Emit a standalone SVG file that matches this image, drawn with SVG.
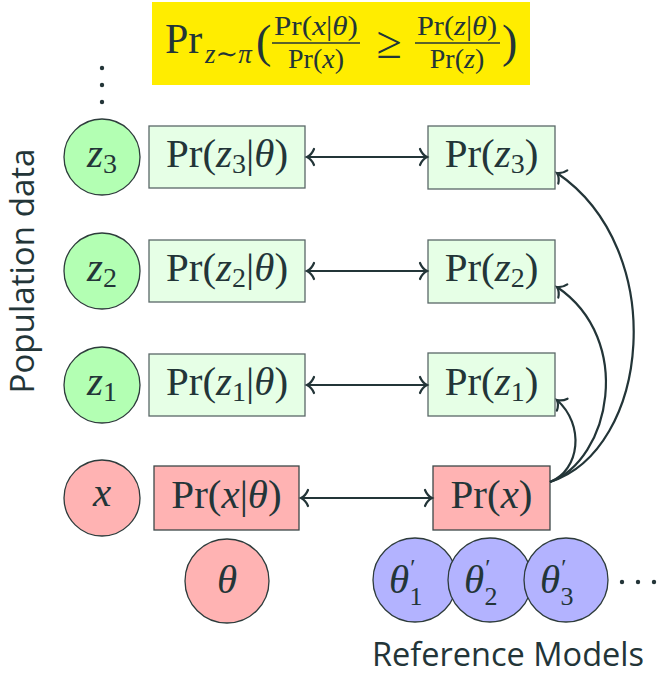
<svg xmlns="http://www.w3.org/2000/svg" width="661" height="674" viewBox="0 0 661 674">
<style>
text{fill:#233538;font-family:"Liberation Serif","DejaVu Serif",serif}
.m{font-size:41px}
.f{font-size:28px}
.i{font-style:italic}
.sans{font-family:"Open Sans","DejaVu Sans",sans-serif;font-size:32px}
.gc{fill:#b3ffb3;stroke:#2d3b3b;stroke-width:1.3}
.gb{fill:#e6ffe6;stroke:#5a6868;stroke-width:1.3}
.rc{fill:#ffb3b3;stroke:#2d3b3b;stroke-width:1.3}
.rb{fill:#ffb3b3;stroke:#3d4848;stroke-width:1.3}
.bc{fill:#b3b3ff;stroke:#2d3b3b;stroke-width:1.3}
.ln{fill:none;stroke:#233538;stroke-width:2.2;marker-end:url(#ah)}
.dl{fill:none;stroke:#233538;stroke-width:2.2;marker-start:url(#ah);marker-end:url(#ah)}
.dot{fill:#233538}
</style>
<defs>
<marker id="ah" markerUnits="userSpaceOnUse" viewBox="-10 -10 14 20" refX="0" refY="0" markerWidth="14" markerHeight="20" orient="auto-start-reverse">
<path d="M-7,-8 C-5,-3 -2,-1 0,0 C-2,1 -5,3 -7,8" fill="none" stroke="#233538" stroke-width="2.2" stroke-linecap="round"/>
</marker>
</defs>

<g id="formula">
<rect x="152" y="2" width="378" height="83" fill="#ffed00"/>
<text x="165" y="53" font-size="42">Pr</text>
<text x="205" y="63" font-size="27" class="i">z∼π</text>
<text x="256" y="57" font-size="46">(</text>
<text x="316" y="35" class="f" text-anchor="middle" textLength="84" lengthAdjust="spacingAndGlyphs">Pr(<tspan class="i">x</tspan>|<tspan class="i">θ</tspan>)</text>
<line x1="272" y1="43" x2="360" y2="43" stroke="#233538" stroke-width="1.4"/>
<text x="316" y="68" class="f" text-anchor="middle">Pr(<tspan class="i">x</tspan>)</text>
<text x="389" y="58" font-size="46" text-anchor="middle">≥</text>
<text x="457" y="35" class="f" text-anchor="middle" textLength="80" lengthAdjust="spacingAndGlyphs">Pr(<tspan class="i">z</tspan>|<tspan class="i">θ</tspan>)</text>
<line x1="415" y1="43" x2="500" y2="43" stroke="#233538" stroke-width="1.4"/>
<text x="457" y="68" class="f" text-anchor="middle">Pr(<tspan class="i">z</tspan>)</text>
<text x="502" y="57" font-size="46">)</text>
</g>

<g id="vdots">
<circle class="dot" cx="102" cy="68" r="2.2"/>
<circle class="dot" cx="102" cy="85" r="2.2"/>
<circle class="dot" cx="102" cy="102" r="2.2"/>
</g>

<g id="z3">
<circle class="gc" cx="102" cy="157" r="38"/>
<text x="102" y="167" class="m" text-anchor="middle"><tspan class="i">z</tspan><tspan font-size="28" dy="6">3</tspan></text>
</g>
<g id="z2">
<circle class="gc" cx="102" cy="271" r="38"/>
<text x="102" y="281" class="m" text-anchor="middle"><tspan class="i">z</tspan><tspan font-size="28" dy="6">2</tspan></text>
</g>
<g id="z1">
<circle class="gc" cx="102" cy="385" r="38"/>
<text x="102" y="395" class="m" text-anchor="middle"><tspan class="i">z</tspan><tspan font-size="28" dy="6">1</tspan></text>
</g>
<g id="x">
<circle class="rc" cx="102" cy="498" r="38"/>
<text x="102" y="506" class="m i" text-anchor="middle">x</text>
</g>

<g id="pz3t">
<rect class="gb" x="149" y="126" width="156" height="62"/>
<text x="227" y="167" class="m" text-anchor="middle">Pr(<tspan class="i">z</tspan><tspan font-size="28" dy="6">3</tspan><tspan dy="-6">|</tspan><tspan class="i">θ</tspan>)</text>
</g>
<g id="pz2t">
<rect class="gb" x="149" y="240" width="156" height="62"/>
<text x="227" y="281" class="m" text-anchor="middle">Pr(<tspan class="i">z</tspan><tspan font-size="28" dy="6">2</tspan><tspan dy="-6">|</tspan><tspan class="i">θ</tspan>)</text>
</g>
<g id="pz1t">
<rect class="gb" x="149" y="354" width="156" height="62"/>
<text x="227" y="395" class="m" text-anchor="middle">Pr(<tspan class="i">z</tspan><tspan font-size="28" dy="6">1</tspan><tspan dy="-6">|</tspan><tspan class="i">θ</tspan>)</text>
</g>
<g id="pxt">
<rect class="rb" x="154" y="466" width="145" height="64"/>
<text x="226.5" y="508" class="m" text-anchor="middle">Pr(<tspan class="i">x</tspan>|<tspan class="i">θ</tspan>)</text>
</g>

<g id="pz3">
<rect class="gb" x="428" y="126" width="127" height="63"/>
<text x="491.5" y="167" class="m" text-anchor="middle">Pr(<tspan class="i">z</tspan><tspan font-size="28" dy="6">3</tspan><tspan dy="-6">)</tspan></text>
</g>
<g id="pz2">
<rect class="gb" x="428" y="240" width="127" height="63"/>
<text x="491.5" y="281" class="m" text-anchor="middle">Pr(<tspan class="i">z</tspan><tspan font-size="28" dy="6">2</tspan><tspan dy="-6">)</tspan></text>
</g>
<g id="pz1">
<rect class="gb" x="428" y="353" width="127" height="63"/>
<text x="491.5" y="395" class="m" text-anchor="middle">Pr(<tspan class="i">z</tspan><tspan font-size="28" dy="6">1</tspan><tspan dy="-6">)</tspan></text>
</g>
<g id="px">
<rect class="rb" x="433" y="466" width="117" height="64"/>
<text x="491.5" y="508" class="m" text-anchor="middle">Pr(<tspan class="i">x</tspan>)</text>
</g>

<g id="theta">
<circle class="rc" cx="227" cy="581" r="42"/>
<text x="227" y="593" class="m i" text-anchor="middle">θ</text>
</g>
<g id="ref1">
<circle class="bc" cx="415" cy="580" r="42"/>
<text x="389" y="593" class="m"><tspan class="i">θ</tspan><tspan font-size="24" dy="-18" dx="1">′</tspan><tspan font-size="26" dy="30" dx="-6">1</tspan></text>
</g>
<g id="ref2">
<circle class="bc" cx="490" cy="580" r="42"/>
<text x="464" y="593" class="m"><tspan class="i">θ</tspan><tspan font-size="24" dy="-18" dx="1">′</tspan><tspan font-size="26" dy="30" dx="-6">2</tspan></text>
</g>
<g id="ref3">
<circle class="bc" cx="566" cy="580" r="42"/>
<text x="540" y="593" class="m"><tspan class="i">θ</tspan><tspan font-size="24" dy="-18" dx="1">′</tspan><tspan font-size="26" dy="30" dx="-6">3</tspan></text>
</g>
<g id="hdots">
<circle class="dot" cx="622" cy="582" r="2.2"/>
<circle class="dot" cx="638" cy="582" r="2.2"/>
<circle class="dot" cx="654" cy="582" r="2.2"/>
</g>

<g id="labels">
<text class="sans" x="34" y="271" text-anchor="middle" transform="rotate(-90 34 271)" textLength="245" lengthAdjust="spacingAndGlyphs">Population data</text>
<text class="sans" x="508" y="666" text-anchor="middle" textLength="272" lengthAdjust="spacingAndGlyphs">Reference Models</text>
</g>

<g id="connectors">
<line class="dl" x1="307" y1="157" x2="427" y2="157"/>
<line class="dl" x1="307" y1="271" x2="427" y2="271"/>
<line class="dl" x1="307" y1="385" x2="427" y2="385"/>
<line class="dl" x1="301" y1="498" x2="432" y2="498"/>
<path class="ln" d="M550,482 C580,470 585,425 557,400"/>
<path class="ln" d="M550,482 C610,460 635,340 557,287"/>
<path class="ln" d="M550,482 C650,450 670,250 557,173"/>
</g>
</svg>
